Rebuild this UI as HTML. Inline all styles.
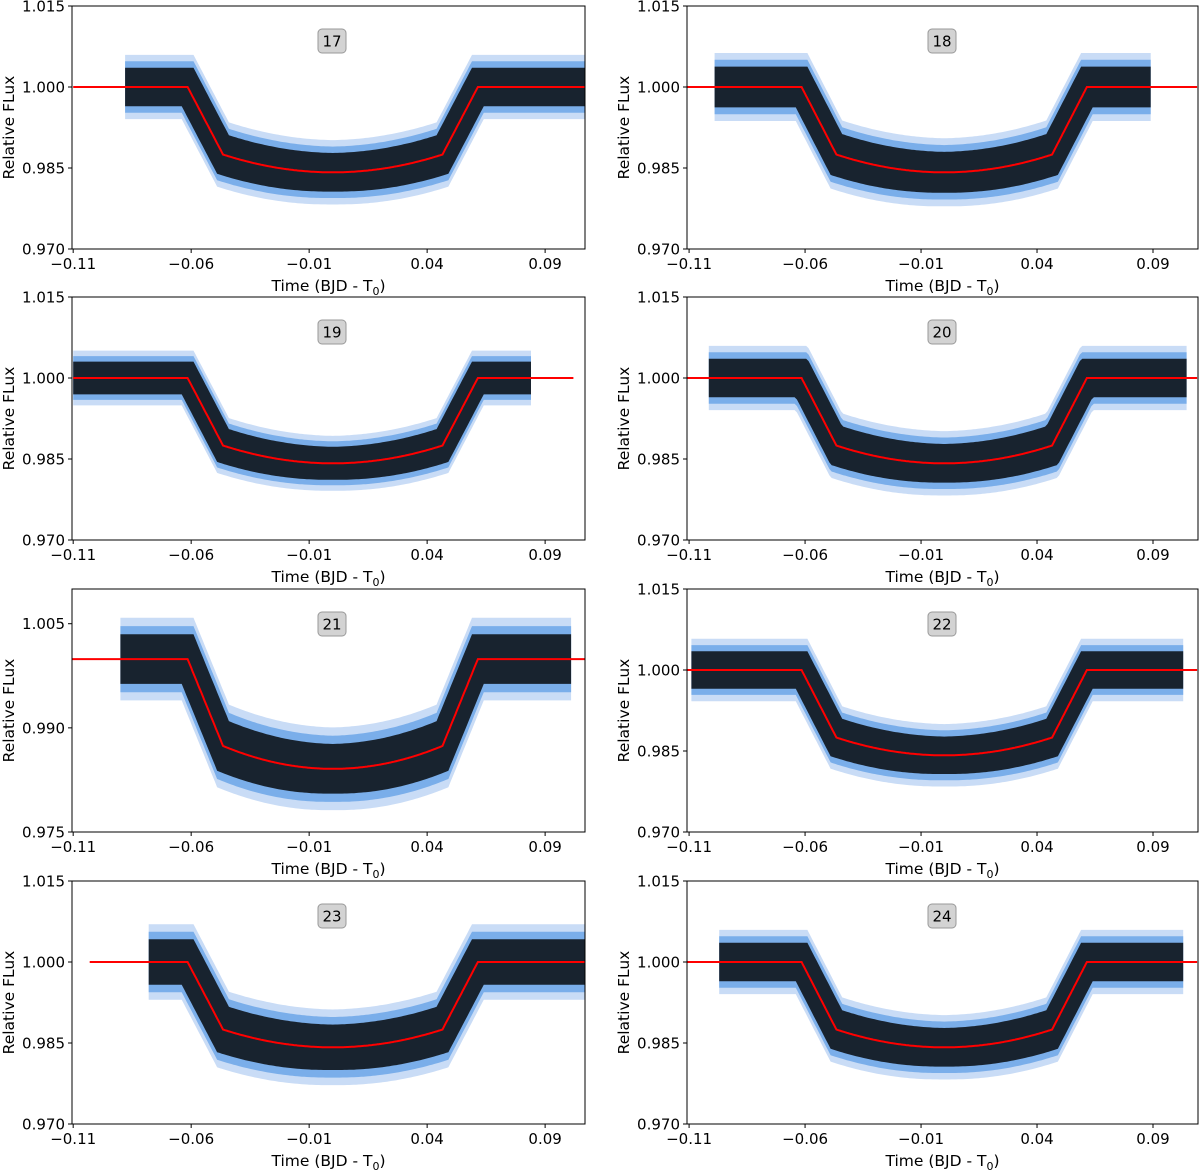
<!DOCTYPE html>
<html><head><meta charset="utf-8"><style>
body{margin:0;background:#fff}
svg{display:block;font-family:"DejaVu Sans","Liberation Sans",sans-serif}
</style></head><body>
<svg id="fig" width="1200" height="1171" viewBox="0 0 1200 1171"></svg>
<script>
// ---- data ----
const epochs = ["17","18","19","20","21","22","23","24"];
const dataStart = [-0.088,-0.099,-0.110,-0.1015,-0.090,-0.109,-0.078,-0.097];
const dataEnd   = [0.107,0.089,0.084,0.105,0.101,0.103,0.107,0.1036];
const modelStart= [-0.110,-0.111,-0.110,-0.111,-0.111,-0.111,-0.103,-0.111];
const modelEnd  = [0.107,0.109,0.102,0.109,0.107,0.109,0.107,0.109];
const baseline  = [1.000,1.000,1.000,1.000,0.9999,1.000,1.000,1.000];
const scatter   = [0.0034,0.0036,0.0029,0.0034,0.0034,0.0033,0.0040,0.0034];
const yLow  = [0.970,0.970,0.970,0.970,0.975,0.970,0.970,0.970];
const yHigh = [1.015,1.015,1.015,1.015,1.010,1.015,1.015,1.015];
const yTicksStd = [0.970,0.985,1.000,1.015];
const yTicks21  = [0.975,0.990,1.005];
const xTicks = [-0.11,-0.06,-0.01,0.04,0.09];
const transitOuter = 0.0615, transitInner = 0.0465, depthEdge = 0.0125, depthCenter = 0.0158;

// ---- layout ----
const colLeft=[72,687], colRight=[585,1198], colXmin=[-0.1105,-0.1109], colXmax=[0.1069,0.1094];
const rowTop=[6,297,589,881], rowH=243;
const NS="http://www.w3.org/2000/svg";
const svg=document.getElementById('fig');
function mk(tag,attrs,parent){const e=document.createElementNS(NS,tag);for(const k in attrs)e.setAttribute(k,attrs[k]);(parent||svg).appendChild(e);return e;}
function model(t,b){const a=Math.abs(t);
  if(a>=transitOuter)return b;
  if(a>=transitInner){const u=(a-transitInner)/(transitOuter-transitInner);return b-depthEdge*(1-u);}
  const r=a/transitInner;return b-depthCenter+(depthCenter-depthEdge)*r*r;}

epochs.forEach((ep,i)=>{
  const col=i%2,row=Math.floor(i/2);
  const L=colLeft[col],R=colRight[col],T=rowTop[row],B=T+rowH;
  const xs=t=>L+(t-colXmin[col])/(colXmax[col]-colXmin[col])*(R-L);
  const ys=v=>B-(v-yLow[i])/(yHigh[i]-yLow[i])*rowH;
  const g=mk('g',{});
  
  
  const clipId='clip'+i;
  const cp=mk('clipPath',{id:clipId},g);mk('rect',{x:L,y:T,width:R-L,height:rowH},cp);
  const dg=mk('g',{'clip-path':'url(#'+clipId+')'},g);
  const layers=[[1.75,'#c9dcf6',1],[1.4,'#7aaeea',1],[1.05,'#000',0.8]];
  layers.forEach((ly,li)=>{
    const up=[],dn=[];
    for(let t=dataStart[i];t<=dataEnd[i]+1e-9;t+=0.001){
      let mx=-1,mn=2;
      for(let d=-0.0025;d<=0.0025;d+=0.0005){const v=model(t+d,baseline[i]);mx=Math.max(mx,v);mn=Math.min(mn,v);}
      const w=scatter[i]*ly[0];
      up.push(xs(t).toFixed(1)+','+ys(mx+w).toFixed(1));
      dn.unshift(xs(t).toFixed(1)+','+ys(mn-w).toFixed(1));
    }
    const p=mk('polygon',{points:up.concat(dn).join(' '),fill:ly[1],'fill-opacity':ly[2]},dg);
    
    
  });
  const pts=[];
  for(let t=modelStart[i];t<=modelEnd[i]+1e-9;t+=0.0005)pts.push(xs(t).toFixed(1)+','+ys(model(t,baseline[i])).toFixed(1));
  const ml=mk('polyline',{points:pts.join(' '),fill:'none',stroke:'#ff0000','stroke-width':2},dg);
  
  
  const fr=mk('rect',{x:L,y:T,width:R-L,height:rowH,fill:'none',stroke:'#000','stroke-width':1},g);
  
  
  xTicks.forEach(v=>{const x=xs(v);
    mk('line',{x1:x,y1:B,x2:x,y2:B+4,stroke:'#000'},g);
    const tx=mk('text',{x:x,y:B+20,'font-size':15,'text-anchor':'middle'},g);tx.textContent=(v<0?'\u2212':'')+Math.abs(v).toFixed(2);
    
    
  });
  const yt=(i===4)?yTicks21:yTicksStd;
  yt.forEach(v=>{const y=ys(v);
    mk('line',{x1:L-4,y1:y,x2:L,y2:y,stroke:'#000'},g);
    const tx=mk('text',{x:L-7,y:y+5.5,'font-size':15,'text-anchor':'end'},g);tx.textContent=v.toFixed(3);
    
    
  });
  const xl=mk('text',{x:(L+R)/2,y:B+42,'font-size':15.5,'text-anchor':'middle'},g);
  xl.innerHTML='Time (BJD - T<tspan font-size="11" dy="4">0</tspan><tspan dy="-4">)</tspan>';
  
  
  const yl=mk('text',{x:0,y:0,'font-size':15.5,'text-anchor':'middle',transform:'translate('+(L-58)+','+(T+rowH/2)+') rotate(-90)'},g);
  yl.textContent='Relative FLux';
  
  
  const cx=L+(col===0?260:255),cy=T+35;
  const bx=mk('rect',{x:cx-14,y:cy-12,width:28,height:24,rx:4,fill:'#d3d3d3',stroke:'#999','stroke-width':1},g);
  
  
  const bt=mk('text',{x:cx,y:cy+5.5,'font-size':15,'text-anchor':'middle'},g);bt.textContent=ep;
  
  
});
</script>
</body></html>
